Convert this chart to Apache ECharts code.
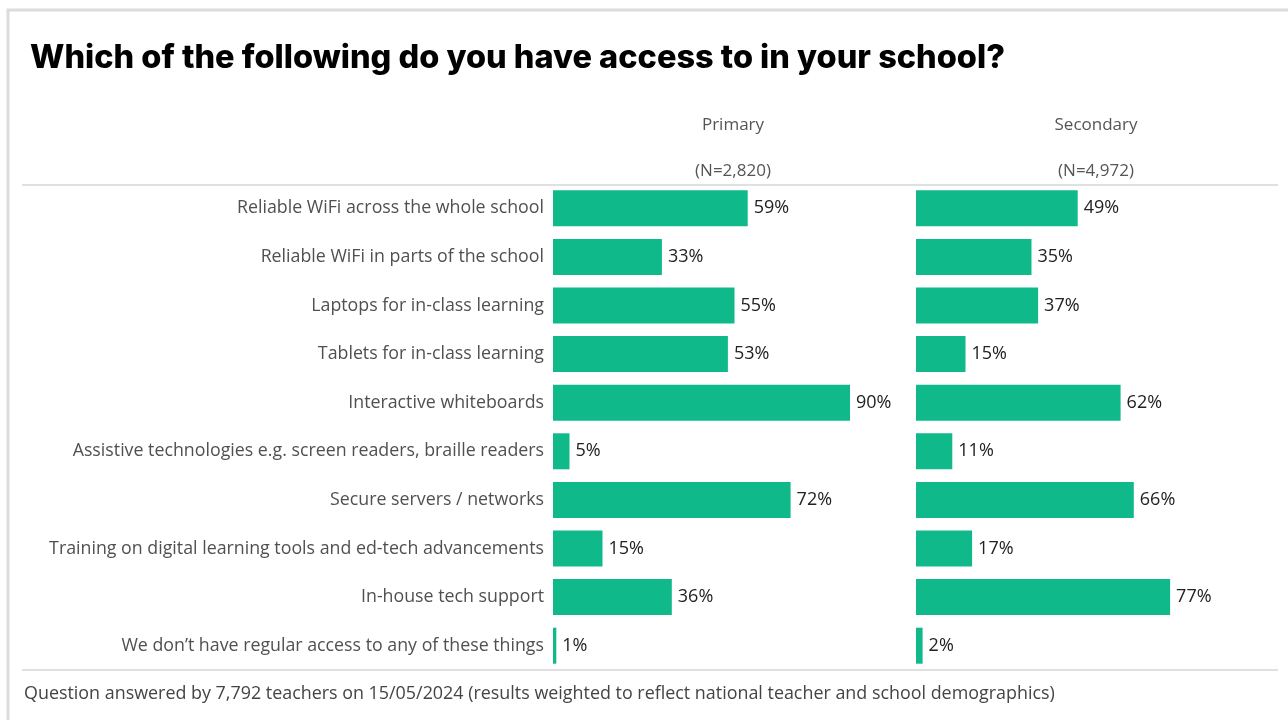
<!DOCTYPE html>
<html><head><meta charset="utf-8">
<script src="https://cdn.jsdelivr.net/npm/echarts@6/dist/echarts.min.js"></script>
<style>html,body{margin:0;padding:0;background:#fff}#c{width:1288px;height:720px}</style>
</head><body><div id="c"></div>
<script>
const categories = [
  "Reliable WiFi across the whole school",
  "Reliable WiFi in parts of the school",
  "Laptops for in-class learning",
  "Tablets for in-class learning",
  "Interactive whiteboards",
  "Assistive technologies e.g. screen readers, braille readers",
  "Secure servers / networks",
  "Training on digital learning tools and ed-tech advancements",
  "In-house tech support",
  "We don\u2019t have regular access to any of these things"
];
const primaryValues = [59, 33, 55, 53, 90, 5, 72, 15, 36, 1];
const secondaryValues = [49, 35, 37, 15, 62, 11, 66, 17, 77, 2];
const groupNames = ["Primary", "Secondary"];
const groupNs = ["(N=2,820)", "(N=4,972)"];
const titleText = "Which of the following do you have access to in your school?";
const footText = "Question answered by 7,792 teachers on 15/05/2024 (results weighted to reflect national teacher and school demographics)";

const FONT = '"Open Sans", "Noto Sans", sans-serif';
const GREEN = '#10b98a';
const chart = echarts.init(document.getElementById('c'));
const gridTop = 184, gridBottom = 50;
const grids = [
  {left: 553, width: 330, top: gridTop, bottom: gridBottom},
  {left: 916, width: 330, top: gridTop, bottom: gridBottom}
];
function yAxis(i, show) {
  return {
    type: 'category', gridIndex: i, data: categories, inverse: true,
    axisLine: {show: false}, axisTick: {show: false},
    axisLabel: {show: show, fontFamily: FONT, fontSize: 17.8, color: '#505050', margin: 9}
  };
}
function xAxis(i) {
  return {type: 'value', gridIndex: i, min: 0, max: 100, show: false};
}
function series(i, data) {
  return {
    type: 'bar', xAxisIndex: i, yAxisIndex: i, data: data, barWidth: 36,
    itemStyle: {color: GREEN},
    label: {show: true, position: 'right', distance: 6, formatter: '{c}%',
      fontFamily: FONT, fontSize: 18, color: '#222'}
  };
}
const hdr = {fontFamily: FONT, fontWeight: 'normal', fontSize: 17, color: '#555'};
chart.setOption({
  animation: false,
  title: [
    {text: titleText, left: 25, top: 37,
      textStyle: {fontFamily: 'Inter, sans-serif', fontWeight: 800, fontSize: 32.5, color: '#000'}},
    {text: groupNames[0], left: 728, top: 112, textAlign: 'center', textStyle: hdr},
    {text: groupNs[0], left: 728, top: 158, textAlign: 'center', textStyle: hdr},
    {text: groupNames[1], left: 1091, top: 112, textAlign: 'center', textStyle: hdr},
    {text: groupNs[1], left: 1091, top: 158, textAlign: 'center', textStyle: hdr},
    {text: footText, left: 19, top: 680,
      textStyle: {fontFamily: FONT, fontWeight: 'normal', fontSize: 17.9, color: '#444'}}
  ],
  grid: grids,
  xAxis: [xAxis(0), xAxis(1)],
  yAxis: [yAxis(0, true), yAxis(1, false)],
  series: [series(0, primaryValues), series(1, secondaryValues)],
  graphic: [
    {type: 'rect', shape: {x: 8, y: 10, width: 1300, height: 740},
      style: {fill: 'none', stroke: '#dcdcdc', lineWidth: 3}, silent: true},
    {type: 'line', shape: {x1: 22, y1: 185, x2: 1278, y2: 185},
      style: {stroke: '#d6d6d6', lineWidth: 1.5}, silent: true},
    {type: 'line', shape: {x1: 22, y1: 670, x2: 1278, y2: 670},
      style: {stroke: '#d6d6d6', lineWidth: 1.5}, silent: true}
  ]
});
</script></body></html>
